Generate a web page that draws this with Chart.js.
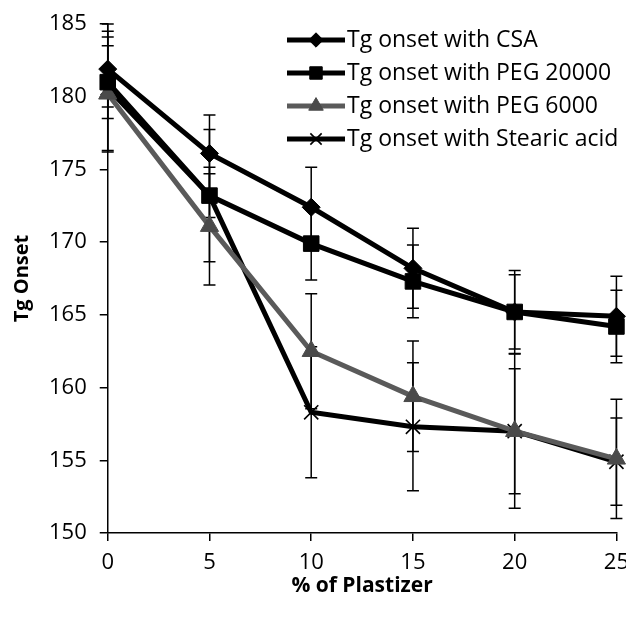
<!DOCTYPE html>
<html>
<head>
<meta charset="utf-8">
<script src="https://cdn.jsdelivr.net/npm/chart.js@4.4.1/dist/chart.umd.min.js"></script>
<style>
html,body{margin:0;padding:0;background:#fff;overflow:hidden;}
#wrap{width:640px;height:617px;}
</style>
</head>
<body>
<div id="wrap"><canvas id="c" width="640" height="617"></canvas></div>
<script>
const categories = [0, 5, 10, 15, 20, 25];
const seriesLabels = ['Tg onset with CSA', 'Tg onset with PEG 20000', 'Tg onset with PEG 6000', 'Tg onset with Stearic acid'];
const csa = [181.9, 176.1, 172.4, 168.2, 165.2, 164.9];
const csaErr = [2.6, 2.65, 2.75, 2.75, 2.55, 2.75];
const peg20000 = [181.0, 173.2, 169.9, 167.3, 165.2, 164.2];
const peg20000Err = [2.5, 4.55, 2.5, 2.5, 2.85, 2.5];
const peg6000 = [180.2, 171.1, 162.5, 159.4, 157.0, 155.1];
const peg6000Err = [3.9, 4.05, 3.95, 3.8, 4.3, 4.1];
const stearic = [180.6, 173.2, 158.3, 157.3, 157.0, 154.9];
const stearicErr = [4.4, 1.5, 4.5, 4.4, 5.3, 3.0];
const yTicks = [150, 155, 160, 165, 170, 175, 180, 185];

const FONT = "'Open Sans', 'DejaVu Sans', sans-serif";
const values = [csa, peg20000, peg6000, stearic];
const errors = [csaErr, peg20000Err, peg6000Err, stearicErr];
const styles = [
  {line: '#000000', fill: '#000000', point: 'rectRot', radius: 9, bw: 1},
  {line: '#000000', fill: '#000000', point: 'rect', radius: 11, bw: 1},
  {line: '#5a5a5a', fill: '#4a4a4a', point: 'triangle', radius: 10.5, bw: 1},
  {line: '#000000', fill: '#000000', point: 'crossRot', radius: 10, bw: 1.6}
];

const datasets = values.map((v, i) => ({
  label: seriesLabels[i],
  data: categories.map((c, j) => ({x: c, y: v[j]})),
  borderColor: styles[i].line,
  backgroundColor: styles[i].fill,
  pointBorderColor: styles[i].fill,
  pointBackgroundColor: styles[i].fill,
  borderWidth: 5,
  pointStyle: styles[i].point,
  pointRadius: styles[i].radius,
  pointBorderWidth: styles[i].bw,
  tension: 0,
  clip: false,
  errs: errors[i]
}));

const errorBars = {
  id: 'errorBars',
  beforeDatasetsDraw(chart) {
    const ctx = chart.ctx, xs = chart.scales.x, ys = chart.scales.y;
    ctx.save();
    ctx.strokeStyle = '#000';
    ctx.lineWidth = 1.5;
    chart.data.datasets.forEach(ds => {
      ds.data.forEach((p, j) => {
        const e = ds.errs[j];
        const x = xs.getPixelForValue(p.x);
        const y1 = ys.getPixelForValue(p.y + e);
        const y2 = ys.getPixelForValue(p.y - e);
        ctx.beginPath();
        ctx.moveTo(x, y1); ctx.lineTo(x, y2);
        ctx.moveTo(x - 6, y1); ctx.lineTo(x + 6, y1);
        ctx.moveTo(x - 6, y2); ctx.lineTo(x + 6, y2);
        ctx.stroke();
      });
    });
    ctx.restore();
  }
};

const legendPlugin = {
  id: 'customLegend',
  afterDraw(chart) {
    const ctx = chart.ctx;
    ctx.save();
    chart.data.datasets.forEach((ds, i) => {
      const y = 40 + i * 33;
      ctx.strokeStyle = ds.borderColor;
      ctx.lineWidth = 5;
      ctx.beginPath(); ctx.moveTo(287, y); ctx.lineTo(345, y); ctx.stroke();
      ctx.fillStyle = ds.pointBackgroundColor;
      ctx.strokeStyle = ds.pointBorderColor;
      ctx.lineWidth = ds.pointBorderWidth;
      Chart.helpers.drawPoint(ctx, {pointStyle: ds.pointStyle, radius: ds.pointRadius * 0.8, rotation: 0, borderWidth: ds.pointBorderWidth}, 316, y);
      ctx.fillStyle = '#000';
      ctx.font = "23px " + FONT;
      ctx.textBaseline = 'middle';
      ctx.textAlign = 'left';
      ctx.fillText(ds.label, 347, y);
    });
    ctx.restore();
  }
};

new Chart(document.getElementById('c'), {
  type: 'line',
  data: {datasets},
  options: {
    responsive: false,
    animation: false,
    devicePixelRatio: 1,
    layout: {padding: {top: 11, right: 22, left: 10, bottom: 20}},
    plugins: {legend: {display: false}, tooltip: {enabled: false}},
    scales: {
      x: {
        type: 'linear', min: 0, max: 25,
        afterBuildTicks: s => { s.ticks = categories.map(v => ({value: v})); },
        border: {color: '#000', width: 1.5},
        grid: {drawOnChartArea: false, color: '#000', tickLength: 8, lineWidth: 1.5},
        ticks: {color: '#000', font: {family: FONT, size: 22, lineHeight: 1}, padding: 11, maxRotation: 0},
        title: {display: true, text: '% of Plastizer', color: '#000', font: {family: FONT, size: 21, weight: 'bold', lineHeight: 1}, padding: {top: -9, bottom: 0}}
      },
      y: {
        type: 'linear', min: 150, max: 185,
        afterBuildTicks: s => { s.ticks = yTicks.map(v => ({value: v})); },
        border: {color: '#000', width: 1.5},
        grid: {drawOnChartArea: false, color: '#000', tickLength: 8, lineWidth: 1.5},
        ticks: {color: '#000', font: {family: FONT, size: 22, lineHeight: 1}, padding: 13},
        title: {display: true, text: 'Tg Onset', color: '#000', font: {family: FONT, size: 20, weight: 'bold'}, padding: {top: 0, bottom: 2}}
      }
    }
  },
  plugins: [errorBars, legendPlugin]
});
</script>
</body>
</html>
